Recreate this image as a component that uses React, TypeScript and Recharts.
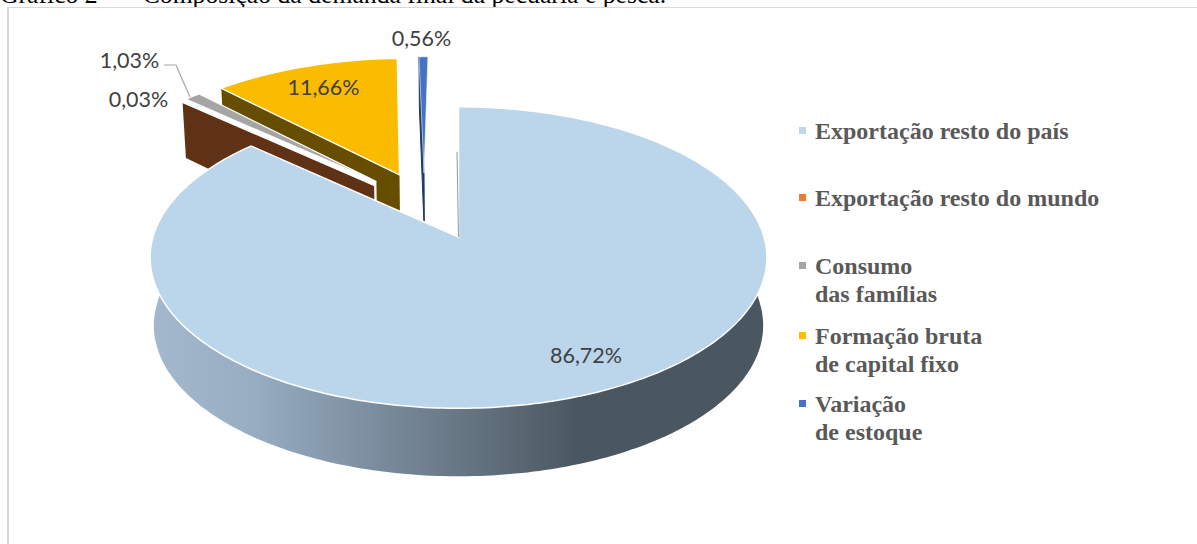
import React from 'react';
import { PieChart, Pie, Legend } from 'recharts';

// legend order, clockwise from 12 o'clock
const categories = [
  'Exportação resto do país',
  'Exportação resto do mundo',
  'Consumo\ndas famílias',
  'Formação bruta\nde capital fixo',
  'Variação\nde estoque',
];
const shares = [86.72, 0.03, 1.03, 11.66, 0.56];

const topColors = ['#BBD5EB', '#ED7D31', '#A5A5A5', '#FBBC00', '#4472C4'];
const legendColors = ['#BDD7EE', '#ED7D31', '#A5A5A5', '#FFC000', '#4472C4'];
const wallColors = ['url(#mainWall)', '#5F3115', '#FFFFFF', '#664D00', '#1F3864'];

// how far each slice is pulled out of the pie, in radius units
const explodeU = [0, -0.29, -0.283, -0.205, -0.12];
const explodeV = [0, 0.367, 0.394, 0.445, 0.46];

const labelCenters = [
  [586, 355],
  [138.5, 99],
  [129.5, 60],
  [323.5, 87],
  [421.5, 38],
];
const legendRows = [131, 198, 280, 350, 418];

const TILT = 0.4843;
const PERSP = 0.1362;

const chartData = categories
  .map((name, i) => ({ name, value: shares[i], idx: i, fill: topColors[i] }))
  .reverse();

const project = (cx: number, cy: number, r: number, u: number, v: number, drop = 0) => {
  const w = 1 + PERSP * v;
  const depth = v <= 0 ? 68 : 68 - 12 * v;
  return {
    x: cx + ((r * u) / w) * (1 - drop * 0.012),
    y: cy - (r * TILT * v) / w + drop * depth,
  };
};

const toPath = (pts: { x: number; y: number }[]) =>
  'M' + pts.map((p) => `${p.x.toFixed(1)},${p.y.toFixed(1)}`).join('L') + 'Z';

const Slice3D = (props: any) => {
  const { cx, cy, outerRadius, startAngle, endAngle, payload } = props;
  const idx = payload.idx;
  const eu = explodeU[idx];
  const ev = explodeV[idx];
  const t1 = 90 - Math.max(startAngle, endAngle);
  const t2 = 90 - Math.min(startAngle, endAngle);
  const rim = (deg: number, drop = 0) => {
    const a = (deg * Math.PI) / 180;
    return project(cx, cy, outerRadius, Math.sin(a) + eu, Math.cos(a) + ev, drop);
  };
  const apex = (drop = 0) => project(cx, cy, outerRadius, eu, ev, drop);

  const angles: number[] = [];
  const steps = Math.max(2, Math.ceil(t2 - t1));
  for (let i = 0; i <= steps; i++) angles.push(t1 + ((t2 - t1) * i) / steps);

  const topFace = toPath([apex(), ...angles.map((d) => rim(d))]);

  if (idx === 0) {
    const wall = toPath([...angles.map((d) => rim(d)), ...angles.slice().reverse().map((d) => rim(d, 1))]);
    const start = rim(t1);
    const ap = apex();
    return (
      <g>
        <defs>
          <linearGradient id="mainWall" gradientUnits="userSpaceOnUse" x1={155} y1={0} x2={770} y2={0}>
            <stop offset="0" stopColor="#A3B8CD" />
            <stop offset="0.16" stopColor="#98ADC2" />
            <stop offset="0.69" stopColor="#4A5760" />
            <stop offset="1" stopColor="#4A5760" />
          </linearGradient>
        </defs>
        <path d={wall} fill={wallColors[0]} />
        <path d={topFace} fill={topColors[0]} stroke="#FFFFFF" strokeWidth={1.5} />
        <line x1={start.x - 1.5} y1={start.y + 45} x2={ap.x} y2={ap.y} stroke="#8F979E" strokeWidth={1} />
      </g>
    );
  }

  const wall = toPath([rim(t1), apex(), apex(1), rim(t1, 1)]);
  const thin = idx === 4;
  return (
    <g>
      <path d={wall} fill={wallColors[idx]} stroke={thin ? wallColors[idx] : 'none'} strokeWidth={thin ? 1 : 0} />
      <path d={topFace} fill={topColors[idx]} stroke="#FFFFFF" strokeWidth={thin ? 0.6 : 1.3} />
    </g>
  );
};

const SliceLabel = (props: any) => {
  const idx = props.payload?.idx ?? props.idx;
  const [x, y] = labelCenters[idx];
  const text = shares[idx].toFixed(2).replace('.', ',') + '%';
  return (
    <g>
      {idx === 2 && (
        <polyline points="164,65 176,65 190,97" fill="none" stroke="#A6A6A6" strokeWidth={1.2} />
      )}
      <text
        x={x}
        y={y}
        textAnchor="middle"
        dominantBaseline="central"
        fontFamily="Lato, Carlito, sans-serif"
        fontSize={21.5}
        fill="#404040"
      >
        {text}
      </text>
    </g>
  );
};

const LegendBlock = () => (
  <div style={{ position: 'relative', width: 1197, height: 544 }}>
    {categories.map((name, i) => {
      const lines = name.split('\n');
      return (
        <div
          key={name}
          style={{
            position: 'absolute',
            left: 815,
            top: legendRows[i] - (lines.length * 28) / 2,
            fontFamily: '"Liberation Serif", serif',
            fontWeight: 700,
            fontSize: 24,
            lineHeight: '28px',
            color: '#595959',
            whiteSpace: 'pre',
          }}
        >
          <span
            style={{
              position: 'absolute',
              left: -16,
              top: 10,
              width: 7,
              height: 7,
              background: legendColors[i],
            }}
          />
          {name}
        </div>
      );
    })}
  </div>
);

export default function App() {
  return (
    <div style={{ position: 'absolute', left: 0, top: 0, width: 1197, height: 544, overflow: 'hidden', background: '#FFFFFF' }}>
      <div
        style={{
          position: 'absolute',
          left: 0,
          top: -19,
          fontFamily: '"Liberation Serif", serif',
          fontSize: 25.7,
          lineHeight: '28px',
          color: '#000000',
          whiteSpace: 'pre',
        }}
      >
        Gráfico 2 —  Composição da demanda final da pecuária e pesca.
      </div>
      <div
        style={{
          position: 'absolute',
          left: 7,
          top: 7,
          width: 1200,
          height: 560,
          borderLeft: '2px solid #D9D9D9',
          borderTop: '1.5px solid #D9D9D9',
          boxSizing: 'border-box',
        }}
      />
      <div style={{ position: 'absolute', left: 0, top: 0 }}>
        <PieChart width={1197} height={544} margin={{ top: 0, right: 0, bottom: 0, left: 0 }}>
          <Pie
            data={chartData}
            dataKey="value"
            nameKey="name"
            cx={458.5}
            cy={237}
            innerRadius={0}
            outerRadius={305.5}
            startAngle={90}
            endAngle={450}
            stroke="none"
            shape={Slice3D}
            label={SliceLabel}
            labelLine={false}
            isAnimationActive={false}
          />
          <Legend
            content={<LegendBlock />}
            wrapperStyle={{ left: 0, top: 0, width: 1197, height: 544, pointerEvents: 'none' }}
          />
        </PieChart>
      </div>
    </div>
  );
}
